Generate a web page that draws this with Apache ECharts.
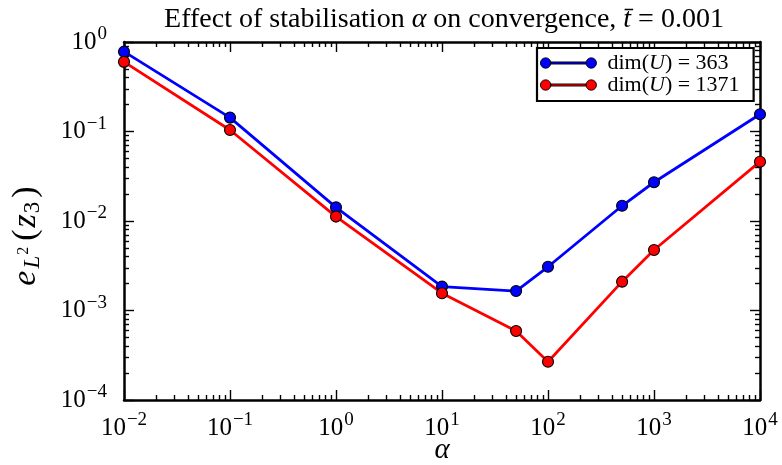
<!DOCTYPE html>
<html><head><meta charset="utf-8">
<script src="https://cdn.jsdelivr.net/npm/echarts@6/dist/echarts.min.js"></script>
<style>html,body{margin:0;padding:0;background:#fff}#c{width:782px;height:465px}</style>
</head><body><div id="c"></div>
<script>
// ---- data ----
const alphaValues = [0.01, 0.1, 1, 10, 50, 100, 500, 1000, 10000];
const err363  = [0.78, 0.143, 0.0142, 0.00185, 0.00165, 0.00308, 0.0148, 0.0271, 0.156];
const err1371 = [0.60, 0.104, 0.0112, 0.00156, 0.00059, 0.000268, 0.0021, 0.00474, 0.046];
const seriesNames = ['dim(U) = 363', 'dim(U) = 1371'];
const seriesColors = ['#0000ff', '#ff0000'];
const xTickExponents = [-2, -1, 0, 1, 2, 3, 4];
const yTickExponents = [-4, -3, -2, -1, 0];

const FONT = 'Liberation Serif';
const majorVals = exps => exps.map(e => Math.pow(10, e));
const minorVals = exps => {
  const out = [];
  for (let i = 0; i < exps.length - 1; i++)
    for (let k = 2; k <= 9; k++) out.push(parseFloat((k * Math.pow(10, exps[i])).toPrecision(4)));
  return out;
};
const xMajor = majorVals(xTickExponents), xMinor = minorVals(xTickExponents);
const yMajor = majorVals(yTickExponents), yMinor = minorVals(yTickExponents);
const xMin = xMajor[0], xMax = xMajor[xMajor.length - 1];
const yMin = yMajor[0], yMax = yMajor[yMajor.length - 1];

const powRich = {
  b: { fontFamily: FONT, fontSize: 25, color: '#000' },
  s: { fontFamily: FONT, fontSize: 19, color: '#000', padding: [0, 0, 15, 1] }
};
const powFmt = v => {
  const e = Math.round(Math.log10(v));
  return '{b|10}{s|' + (e < 0 ? '\u2212' + (-e) : e) + '}';
};

function tickAxis(pos, min, max, vals, len, showLine, labels, extra) {
  return Object.assign({
    type: 'log', position: pos, min: min, max: max, logBase: 10,
    axisLine: { show: showLine, onZero: false, lineStyle: { color: '#000', width: 2.5 } },
    axisTick: { show: true, inside: true, length: len, customValues: vals, lineStyle: { color: '#000', width: 1.4 } },
    axisLabel: labels ? { show: true, customValues: vals, formatter: powFmt, rich: powRich, margin: 10 } : { show: false },
    splitLine: { show: false }, minorTick: { show: false }, minorSplitLine: { show: false }
  }, extra || {});
}

const xAxes = [
  tickAxis('bottom', xMin, xMax, xMajor, 10, true, true, {
    name: '{a|\u03b1}', nameLocation: 'middle', nameGap: 36, nameMoveOverlap: false,
    nameTextStyle: { rich: { a: { fontFamily: FONT, fontStyle: 'italic', fontSize: 29, color: '#000' } } }
  }),
  tickAxis('bottom', xMin, xMax, xMinor, 5, false, false),
  tickAxis('top', xMin, xMax, xMajor, 10, true, false),
  tickAxis('top', xMin, xMax, xMinor, 5, false, false)
];
const yAxes = [
  tickAxis('left', yMin, yMax, yMajor, 10, true, true, {
    name: '{e|e}{l|L}{t|2}{p|(}{z|z}{n|3}{p|)}', nameLocation: 'middle', nameGap: 80, nameRotate: 90,
    nameTextStyle: { padding: [0, 28, 0, 0], rich: {
      e: { fontFamily: FONT, fontStyle: 'italic', fontSize: 34, color: '#000', padding: [0, 1, 0, 0] },
      l: { fontFamily: FONT, fontStyle: 'italic', fontSize: 23, color: '#000', padding: [13, 0, 0, 1] },
      t: { fontFamily: FONT, fontSize: 16, color: '#000', padding: [0, 4, 4, 1] },
      p: { fontFamily: FONT, fontSize: 34, color: '#000', padding: [0, 2, 0, 2] },
      z: { fontFamily: FONT, fontStyle: 'italic', fontSize: 34, color: '#000' },
      n: { fontFamily: FONT, fontSize: 23, color: '#000', padding: [13, 2, 0, 1] }
    } }
  }),
  tickAxis('left', yMin, yMax, yMinor, 5, false, false),
  tickAxis('right', yMin, yMax, yMajor, 10, true, false),
  tickAxis('right', yMin, yMax, yMinor, 5, false, false)
];
xAxes[0].axisLabel.margin = 11;
yAxes[0].axisLabel.margin = 17;

const iconPath = 'path://M0,10A10,10,0,1,0,20,10A10,10,0,1,0,0,10Z M88,10A10,10,0,1,0,108,10A10,10,0,1,0,88,10Z M20,8L88,8L88,12L20,12Z';

const series = [err363, err1371].map((vals, i) => ({
  name: seriesNames[i], type: 'line', xAxisIndex: 0, yAxisIndex: 0,
  data: alphaValues.map((a, j) => [a, vals[j]]),
  symbol: 'circle', symbolSize: 11, clip: true,
  lineStyle: { color: seriesColors[i], width: 2.8 },
  itemStyle: { color: seriesColors[i], borderColor: '#000', borderWidth: 1.1 },
  emphasis: { disabled: true }, animation: false
}));

const chart = echarts.init(document.getElementById('c'), null, { renderer: 'canvas' });
chart.setOption({
  backgroundColor: '#fff',
  animation: false,
  title: {
    text: 'Effect of stabilisation {i|\u03b1} on convergence, {i|t\u0304} = 0.001',
    left: 439, top: 1, textAlign: 'center',
    textStyle: { fontFamily: FONT, fontSize: 28, fontWeight: 'normal', color: '#000',
      rich: { i: { fontFamily: FONT, fontStyle: 'italic', fontSize: 28, color: '#000' } } }
  },
  legend: {
    data: seriesNames, orient: 'vertical', left: 537, top: 48,
    backgroundColor: '#fff', borderColor: '#000', borderWidth: 2.2, borderRadius: 0,
    padding: [4, 14, 5, 3], itemGap: 0, itemWidth: 56, itemHeight: 11,
    icon: iconPath,
    itemStyle: { borderColor: '#000', borderWidth: 0.9 },
    formatter: name => {
      const m = name.split('U');
      return '{f|' + m[0] + '}{u|U}{t|' + m[1] + '}';
    },
    textStyle: { fontFamily: FONT, fontSize: 22, color: '#000', lineHeight: 22,
      rich: { f: { fontFamily: FONT, fontSize: 22, color: '#000', padding: [0, 0, 0, 6] },
              t: { fontFamily: FONT, fontSize: 22, color: '#000' },
              u: { fontFamily: FONT, fontStyle: 'italic', fontSize: 22, color: '#000' } } }
  },
  grid: { left: 124, right: 22, top: 42, bottom: 65, containLabel: false, outerBoundsMode: 'none' },
  xAxis: xAxes,
  yAxis: yAxes,
  series: series
});
</script></body></html>
